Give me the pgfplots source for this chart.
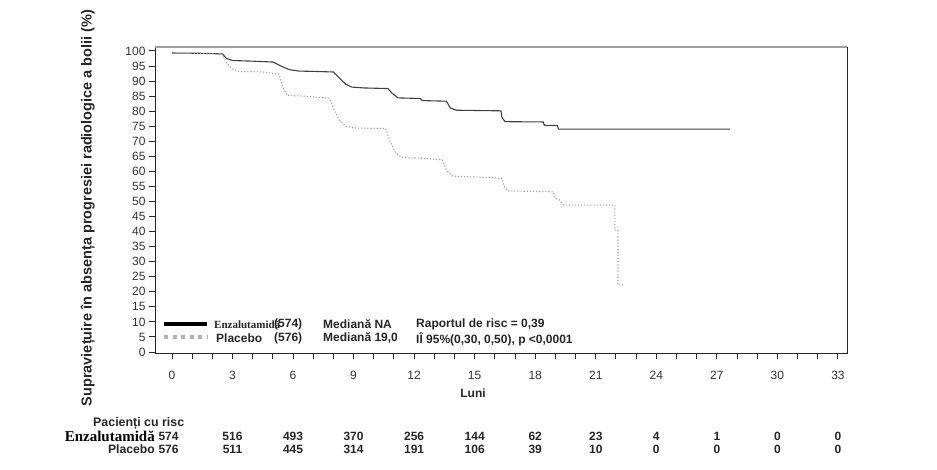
\documentclass[border=0pt]{standalone}
\usepackage{fontspec}
\setmainfont{Liberation Sans}
\newfontfamily\seriff{Liberation Serif}
\usepackage{pgfplots}
\pgfplotsset{compat=1.18}
\definecolor{enz}{HTML}{404040}
\definecolor{plc}{HTML}{9A9A9A}
\begin{document}
\begin{tikzpicture}[x=1pt,y=1pt]
\useasboundingbox (0,0) rectangle (937,470);
\begin{axis}[
  at={(155pt,117pt)}, anchor=south west,
  scale only axis, width=692pt, height=306pt,
  xmin=-0.84, xmax=33.45, ymin=-0.33, ymax=101.3,
  axis line style={draw=black!85, line width=0.9pt},
  xtick={0,3,...,33},
  minor xtick={1,2,4,5,7,8,10,11,13,14,16,17,19,20,22,23,25,26,28,29,31,32},
  ytick={0,5,...,100},
  tick align=outside, tick pos=left,
  major tick length=6pt, minor tick length=6pt,
  tick style={black!85, line width=0.9pt},
  ticklabel style={font=\fontsize{12}{14}\selectfont, text=black!80},
  xticklabel style={yshift=-9pt},
  /pgf/number format/assume math mode=true,
  clip=false,
]
\addplot[enz, line width=1.1pt] coordinates {
(0,99.3) (1.5,99.2) (2.5,99.0) (2.7,97.5) (3.0,96.8) (4.0,96.6) (5.0,96.3)
(5.4,95) (5.8,93.8) (6.3,93.3) (7.0,93.2) (8.0,93.0) (8.3,91) (8.6,89)
(8.9,88.0) (9.5,87.7) (10.7,87.5) (10.9,86) (11.2,84.4) (12.3,84.2)
(12.4,83.5) (13.6,83.3) (13.8,81) (14.1,80.3) (16.3,80.1) (16.35,78)
(16.5,76.5) (18.4,76.4) (18.45,75.3) (19.1,75.2) (19.15,74.0) (27.65,74.0)
};
\addplot[plc, line width=1.1pt, dotted] coordinates {
(0,99.3) (2.0,99.1) (2.5,98.8) (2.7,96) (3.0,94) (3.3,93.2) (4.5,93)
(5.3,92.3) (5.5,88) (5.7,85.2) (6.5,85) (7.8,84.3) (8.0,81) (8.3,77)
(8.6,75) (9.0,74.4) (10.6,74.2) (10.8,70) (11.1,66) (11.4,64.6) (12.5,64.3)
(13.4,63.8) (13.6,60.5) (13.9,58.4) (15.5,58) (16.35,57.7) (16.45,55)
(16.65,53.5) (18.9,53.2) (19.0,51) (19.2,50.5) (19.4,48.8) (21.95,48.8)
(21.95,40.5) (22.1,40.5) (22.1,22.3) (22.35,22.3)
};
\draw[gray!75, line width=1.6pt] (rel axis cs:0,1) -- (rel axis cs:1,1);
% risk table numbers
\begin{scope}[every node/.style={font=\bfseries\fontsize{12}{14}\selectfont, text=black!85, inner sep=0pt}]
\node at (axis cs:-0.17,-27.9) {574};
\node at (axis cs:3,-27.9) {516};
\node at (axis cs:6,-27.9) {493};
\node at (axis cs:9,-27.9) {370};
\node at (axis cs:12,-27.9) {256};
\node at (axis cs:15,-27.9) {144};
\node at (axis cs:18,-27.9) {62};
\node at (axis cs:21,-27.9) {23};
\node at (axis cs:24,-27.9) {4};
\node at (axis cs:27,-27.9) {1};
\node at (axis cs:30,-27.9) {0};
\node at (axis cs:33,-27.9) {0};
\node at (axis cs:-0.17,-32.4) {576};
\node at (axis cs:3,-32.4) {511};
\node at (axis cs:6,-32.4) {445};
\node at (axis cs:9,-32.4) {314};
\node at (axis cs:12,-32.4) {191};
\node at (axis cs:15,-32.4) {106};
\node at (axis cs:18,-32.4) {39};
\node at (axis cs:21,-32.4) {10};
\node at (axis cs:24,-32.4) {0};
\node at (axis cs:27,-32.4) {0};
\node at (axis cs:30,-32.4) {0};
\node at (axis cs:33,-32.4) {0};
\end{scope}
\end{axis}
% y label
\node[rotate=90, font=\bfseries\fontsize{14.5}{16}\selectfont, text=black!85] at (88,262) {Supraviețuire în absența progresiei radiologice a bolii (\%)};
% x label
\node[font=\bfseries\fontsize{12}{14}\selectfont, text=black!85] at (473,77) {Luni};
% legend
\draw[black, line width=3.2pt] (164,146) -- (207,146);
\draw[gray!60, line width=3.4pt, dash pattern=on 4pt off 4.5pt] (164,133) -- (207,133);
\begin{scope}[every node/.style={font=\bfseries\fontsize{12}{14}\selectfont, text=black!85, inner sep=0pt, anchor=west}]
\node[font=\seriff\bfseries\fontsize{11}{13}\selectfont] at (214,145.5) {Enzalutamidă};
\node at (274,145.5) {(574)};
\node at (216,131.5) {Placebo};
\node at (274,131.5) {(576)};
\node at (323,145.5) {Mediană NA};
\node at (323,131.5) {Mediană 19,0};
\node at (416,145.5) {Raportul de risc = 0,39};
\node at (416,131) {IÎ 95\%(0,30, 0,50), p <0,0001};
\end{scope}
% risk table labels
\node[font=\bfseries\fontsize{12.4}{14}\selectfont, text=black!85, anchor=west, inner sep=0pt] at (93,47) {Pacienți cu risc};
\node[font=\seriff\bfseries\fontsize{15}{16}\selectfont, text=black, anchor=east, inner sep=0pt] at (155,33.5) {Enzalutamidă};
\node[font=\bfseries\fontsize{12.2}{14}\selectfont, text=black!85, anchor=east, inner sep=0pt] at (155,20.5) {Placebo};
\end{tikzpicture}
\end{document}
